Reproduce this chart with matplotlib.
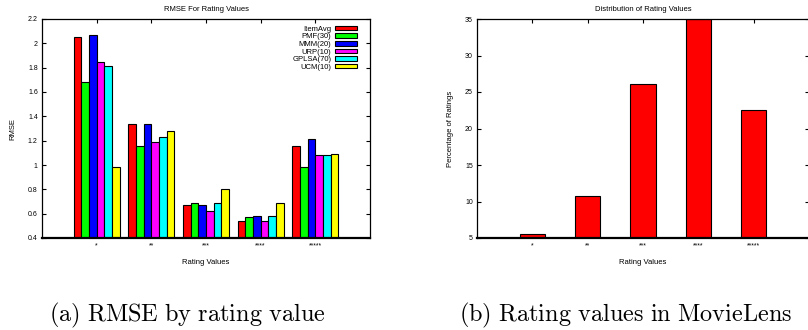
import matplotlib
matplotlib.use('Agg')
import matplotlib.pyplot as plt
import numpy as np

categories = ['*', '**', '***', '****', '*****']
methods = ['ItemAvg', 'PMF(30)', 'MMM(20)', 'URP(10)', 'GPLSA(70)', 'UCM(10)']
item_avg = [2.05, 1.34, 0.67, 0.54, 1.16]
pmf_30 = [1.68, 1.16, 0.69, 0.57, 0.98]
mmm_20 = [2.07, 1.34, 0.67, 0.58, 1.21]
urp_10 = [1.85, 1.19, 0.62, 0.54, 1.08]
gplsa_70 = [1.81, 1.23, 0.69, 0.58, 1.08]
ucm_10 = [0.98, 1.28, 0.80, 0.69, 1.09]
rating_pct = [5.6, 10.8, 26.1, 35.0, 22.6]

series = [item_avg, pmf_30, mmm_20, urp_10, gplsa_70, ucm_10]
colors = ['#ff0000', '#00ff00', '#0000ff', '#ff00ff', '#00ffff', '#ffff00']

plt.rcParams['font.family'] = ['Liberation Sans', 'DejaVu Sans']
plt.rcParams['mathtext.fontset'] = 'cm'

W, H = 808, 330
fig = plt.figure(figsize=(W / 100, H / 100), dpi=100)
ax1 = fig.add_axes([42 / W, 1 - 238 / H, (370 - 42) / W, 219 / H])
ax2 = fig.add_axes([477 / W, 1 - 238 / H, (809 - 477) / W, 219 / H])

x = np.arange(1, len(categories) + 1)
bw = 0.14
for i, (vals, c, m) in enumerate(zip(series, colors, methods)):
    off = (i - (len(series) - 1) / 2) * bw
    ax1.bar(x + off, vals, bw, color=c, edgecolor='black', linewidth=0.8, label=m, zorder=2)

ax2.bar(x, rating_pct, 0.46, color='#ff0000', edgecolor='black', linewidth=0.8, zorder=2)

def style(ax):
    ax.set_xlim(0, 6)
    ax.set_xticks(x)
    ax.set_xticklabels(categories)
    ax.tick_params(direction='in', length=3, width=0.8, labelsize=5, top=True, right=True, pad=3, colors='black')
    for s in ax.spines.values():
        s.set_linewidth(0.9)
    ax.spines['bottom'].set_linewidth(1.6)

style(ax1)
ax1.set_ylim(0.4, 2.2)
yt = np.arange(0.4, 2.21, 0.2)
ax1.set_yticks(yt)
ax1.set_yticklabels([('%g' % round(v, 1)) for v in yt])
ax1.set_title('RMSE For Rating Values', fontsize=5.5, pad=6)
ax1.set_xlabel('Rating Values', fontsize=5.5, labelpad=7)
ax1.set_ylabel('RMSE', fontsize=5.5, labelpad=8)
ax1.legend(loc='upper right', bbox_to_anchor=(0.975, 0.99), frameon=False, markerfirst=False,
           fontsize=5.5, handlelength=2.9, handleheight=0.55, labelspacing=0.08, handletextpad=0.5,
           borderaxespad=0.2)

style(ax2)
ax2.set_ylim(5, 35)
ax2.set_yticks(np.arange(5, 36, 5))
ax2.set_title('Distribution of Rating Values', fontsize=5.5, pad=6)
ax2.set_xlabel('Rating Values', fontsize=5.5, labelpad=7)
ax2.set_ylabel('Percentage of Ratings', fontsize=5.5, labelpad=8)

fig.text(187.5 / W, 1 - 321 / H, r'$\mathrm{(a)\ RMSE\ by\ rating\ value}$',
         ha='center', va='baseline', fontsize=17.5)
fig.text(625.5 / W, 1 - 321 / H, r'$\mathrm{(b)\ Rating\ values\ in\ MovieLens}$',
         ha='center', va='baseline', fontsize=17.5)

fig.savefig('out.png', dpi=100)
